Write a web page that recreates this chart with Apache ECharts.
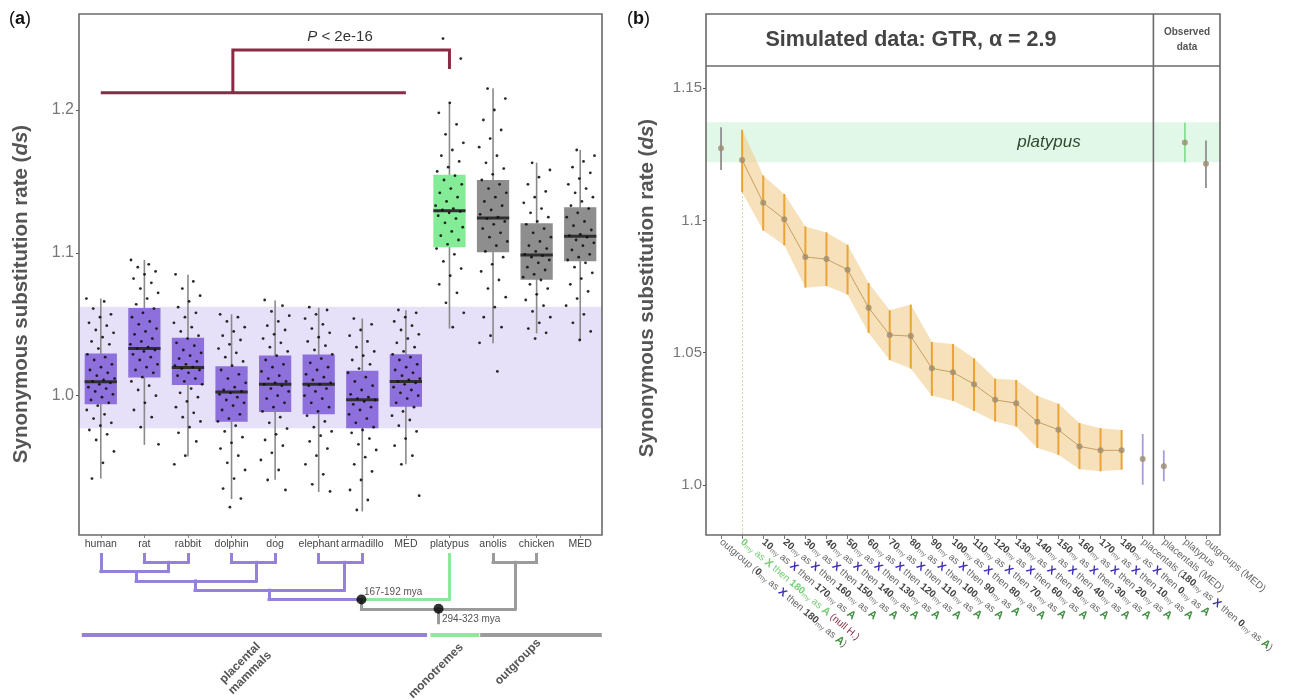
<!DOCTYPE html>
<html>
<head>
<meta charset="utf-8">
<script src="https://cdn.jsdelivr.net/npm/echarts@6/dist/echarts.min.js"></script>
<style>
  html, body { margin: 0; padding: 0; background: #fff; }
  #main { width: 1298px; height: 700px; }
</style>
</head>
<body>
<div id="main"></div>
<script>
// ---------- panel (a): dS per species ----------
const aCats = ['human', 'rat', 'rabbit', 'dolphin', 'dog', 'elephant', 'armadillo', 'MED', 'platypus', 'anolis', 'chicken', 'MED']
const aMin = [0.942, 0.9656, 0.9575, 0.9277, 0.9412, 0.9326, 0.919, 0.952, 1.047, 1.0367, 1.0437, 1.0385]
const aQ1 = [0.994, 1.0128, 1.0075, 0.9817, 0.9886, 0.987, 0.9773, 0.9923, 1.104, 1.1004, 1.0812, 1.0941]
const aMed = [1.0098, 1.033, 1.0198, 1.0026, 1.008, 1.008, 0.9972, 1.010, 1.1295, 1.1244, 1.0985, 1.1116]
const aQ3 = [1.0296, 1.0614, 1.0405, 1.0207, 1.0282, 1.0289, 1.0174, 1.029, 1.1546, 1.151, 1.1207, 1.1319]
const aMax = [1.068, 1.095, 1.0847, 1.057, 1.0667, 1.0616, 1.054, 1.0598, 1.205, 1.2152, 1.1631, 1.172]

const dotsHuman = [1.068, 1.066, 1.061, 1.057, 1.055, 1.051, 1.049, 1.046, 1.044, 1.041, 1.038, 1.036, 1.033, 1.029, 1.027, 1.025, 1.022, 1.02, 1.018, 1.016, 1.014, 1.012, 1.011, 1.01, 1.009, 1.008, 1.006, 1.005, 1.003, 1.001, 0.999, 0.997, 0.995, 0.993, 0.99, 0.987, 0.984, 0.981, 0.979, 0.976, 0.973, 0.969, 0.961, 0.953, 0.942]
const dotsRat = [1.095, 1.092, 1.09, 1.087, 1.085, 1.082, 1.079, 1.075, 1.072, 1.068, 1.064, 1.061, 1.058, 1.055, 1.052, 1.05, 1.047, 1.045, 1.043, 1.04, 1.038, 1.036, 1.034, 1.033, 1.032, 1.031, 1.029, 1.027, 1.025, 1.022, 1.02, 1.018, 1.016, 1.013, 1.01, 1.007, 1.004, 1.0, 0.995, 0.99, 0.985, 0.978, 0.966]
const dotsRabbit = [1.085, 1.08, 1.075, 1.07, 1.066, 1.062, 1.058, 1.055, 1.051, 1.048, 1.045, 1.042, 1.04, 1.037, 1.035, 1.032, 1.03, 1.028, 1.026, 1.024, 1.022, 1.021, 1.02, 1.019, 1.018, 1.016, 1.014, 1.012, 1.01, 1.008, 1.005, 1.002, 0.999, 0.996, 0.992, 0.988, 0.985, 0.982, 0.978, 0.974, 0.968, 0.958, 0.952]
const dotsDolphin = [1.057, 1.055, 1.052, 1.048, 1.045, 1.042, 1.039, 1.036, 1.033, 1.03, 1.027, 1.024, 1.021, 1.018, 1.015, 1.012, 1.009, 1.006, 1.004, 1.003, 1.002, 1.001, 0.999, 0.997, 0.995, 0.993, 0.99, 0.987, 0.984, 0.982, 0.979, 0.975, 0.971, 0.967, 0.963, 0.958, 0.953, 0.948, 0.942, 0.935, 0.928, 0.922]
const dotsDog = [1.067, 1.063, 1.059, 1.056, 1.052, 1.049, 1.046, 1.043, 1.04, 1.037, 1.034, 1.031, 1.028, 1.025, 1.022, 1.02, 1.017, 1.014, 1.012, 1.01, 1.009, 1.008, 1.007, 1.005, 1.003, 1.0, 0.998, 0.995, 0.992, 0.989, 0.985, 0.981, 0.977, 0.973, 0.969, 0.965, 0.96, 0.955, 0.948, 0.941, 0.934]
const dotsElephant = [1.062, 1.06, 1.057, 1.054, 1.05, 1.047, 1.044, 1.041, 1.038, 1.035, 1.032, 1.029, 1.026, 1.023, 1.02, 1.018, 1.015, 1.013, 1.011, 1.009, 1.008, 1.007, 1.005, 1.003, 1.0, 0.998, 0.995, 0.992, 0.989, 0.986, 0.982, 0.978, 0.975, 0.972, 0.968, 0.963, 0.958, 0.952, 0.945, 0.938, 0.933]
const dotsArmadillo = [1.054, 1.05, 1.046, 1.042, 1.038, 1.034, 1.031, 1.028, 1.025, 1.022, 1.019, 1.016, 1.013, 1.01, 1.007, 1.004, 1.001, 0.999, 0.998, 0.997, 0.996, 0.994, 0.992, 0.99, 0.987, 0.984, 0.981, 0.978, 0.976, 0.974, 0.97, 0.966, 0.962, 0.957, 0.952, 0.947, 0.941, 0.934, 0.927, 0.92]
const dotsMedPlac = [1.06, 1.058, 1.055, 1.052, 1.049, 1.046, 1.043, 1.04, 1.037, 1.034, 1.031, 1.029, 1.027, 1.025, 1.022, 1.02, 1.018, 1.016, 1.014, 1.012, 1.011, 1.01, 1.009, 1.008, 1.006, 1.004, 1.002, 1.0, 0.998, 0.995, 0.992, 0.989, 0.986, 0.983, 0.979, 0.975, 0.97, 0.965, 0.958, 0.952, 0.93]
const dotsPlatypus = [1.25, 1.236, 1.205, 1.198, 1.19, 1.183, 1.177, 1.172, 1.168, 1.164, 1.16, 1.157, 1.154, 1.151, 1.148, 1.145, 1.142, 1.139, 1.136, 1.133, 1.131, 1.13, 1.129, 1.128, 1.126, 1.124, 1.121, 1.118, 1.115, 1.112, 1.109, 1.106, 1.103, 1.099, 1.094, 1.089, 1.084, 1.078, 1.072, 1.065, 1.058, 1.048]
const dotsAnolis = [1.215, 1.208, 1.2, 1.193, 1.186, 1.18, 1.174, 1.168, 1.163, 1.159, 1.155, 1.151, 1.148, 1.145, 1.142, 1.139, 1.136, 1.133, 1.13, 1.127, 1.125, 1.124, 1.122, 1.12, 1.117, 1.114, 1.111, 1.108, 1.105, 1.101, 1.097, 1.092, 1.087, 1.081, 1.075, 1.069, 1.062, 1.055, 1.048, 1.042, 1.037, 1.017]
const dotsChicken = [1.163, 1.158, 1.153, 1.148, 1.143, 1.139, 1.135, 1.131, 1.128, 1.125, 1.122, 1.12, 1.117, 1.114, 1.111, 1.108, 1.105, 1.103, 1.101, 1.099, 1.098, 1.097, 1.095, 1.093, 1.09, 1.088, 1.085, 1.083, 1.081, 1.078, 1.075, 1.071, 1.067, 1.063, 1.059, 1.055, 1.051, 1.047, 1.044, 1.04]
const dotsMedOut = [1.172, 1.168, 1.164, 1.16, 1.156, 1.152, 1.148, 1.145, 1.142, 1.139, 1.136, 1.133, 1.131, 1.128, 1.125, 1.122, 1.119, 1.116, 1.113, 1.112, 1.111, 1.109, 1.107, 1.105, 1.102, 1.099, 1.097, 1.095, 1.093, 1.09, 1.086, 1.082, 1.078, 1.073, 1.068, 1.063, 1.057, 1.051, 1.045, 1.039]
const aDots = [dotsHuman, dotsRat, dotsRabbit, dotsDolphin, dotsDog, dotsElephant, dotsArmadillo, dotsMedPlac, dotsPlatypus, dotsAnolis, dotsChicken, dotsMedOut]

const aPlacentalBand = [0.9772, 1.0623]
// P-value bracket: [category, dS] points
const bracketLow = [[0, 1.2121], [7, 1.2121]]
const bracketHigh = [[3.03, 1.2121], [3.03, 1.242], [8, 1.242], [8, 1.2287]]

// dendrogram below (a): [x0, level0, x1, level1], x in category units
const treePurple = [
  [1, 0, 1, 1], [2, 0, 2, 1], [1, 1, 2, 1], [1.54, 1, 1.54, 2],
  [0, 0, 0, 2], [0, 2, 1.54, 2], [0.81, 2, 0.81, 3],
  [3, 0, 3, 1], [4, 0, 4, 1], [3, 1, 4, 1], [3.56, 1, 3.56, 3],
  [0.81, 3, 3.56, 3], [2.16, 3, 2.16, 4],
  [5, 0, 5, 1], [6, 0, 6, 1], [5, 1, 6, 1], [5.58, 1, 5.58, 4],
  [2.16, 4, 5.58, 4], [3.86, 4, 3.86, 5], [3.86, 5, 5.98, 5]
]
const treeGreen = [[5.98, 5, 8, 5], [8, 0, 8, 5]]
const treeGray = [[5.98, 5, 5.98, 6], [5.98, 6, 9.5, 6], [9, 0, 9, 1], [10, 0, 10, 1], [9, 1, 10, 1], [9.5, 1, 9.5, 6], [7.75, 6, 7.75, 7.5]]
const treeNodes = [[5.98, 5], [7.75, 6]]
const groupBars = [[-0.39, 7.44], [7.61, 8.64], [8.75, 11.45]]

// ---------- panel (b): simulated vs observed ----------
const bXmy = [0, 10, 20, 30, 40, 50, 60, 70, 80, 90, 100, 110, 120, 130, 140, 150, 160, 170, 180]
const bAmy = [180, 170, 160, 150, 140, 130, 120, 110, 100, 90, 80, 70, 60, 50, 40, 30, 20, 10, 0]
const bMean = [1.1273, 1.1229, 1.1067, 1.1005, 1.0862, 1.0854, 1.0814, 1.067, 1.0567, 1.0563, 1.0441, 1.0426, 1.0381, 1.0322, 1.0309, 1.0239, 1.0209, 1.0146, 1.0131, 1.0131, 1.0098, 1.0071, 1.1295, 1.1214]
const bLow = [1.1191, 1.1107, 1.0962, 1.0906, 1.0746, 1.0752, 1.072, 1.0575, 1.0472, 1.044, 1.0337, 1.0318, 1.028, 1.024, 1.0221, 1.014, 1.0114, 1.006, 1.0052, 1.0058, 1.0001, 1.0014, 1.122, 1.1123]
const bHigh = [1.1352, 1.1343, 1.117, 1.110, 1.0977, 1.0955, 1.0908, 1.0764, 1.0661, 1.0682, 1.0541, 1.0533, 1.0479, 1.0402, 1.0397, 1.0337, 1.0307, 1.0234, 1.0215, 1.0208, 1.0193, 1.0131, 1.137, 1.1302]
const bPlatypusBand = [1.122, 1.1371]

const FONT = '"Liberation Sans", Arial, sans-serif'
const PURPLE = '#8d70db', GREEN = '#84ec96', GRAY = '#8e8e8e'

function boxColor(i) {
  return i < 8 ? PURPLE : (i === 8 ? GREEN : GRAY)
}
function barColor(i) {
  if (i === 0 || i === 23) return '#8f8f8f'
  if (i === 20 || i === 21) return '#a99ddb'
  if (i === 22) return '#86df94'
  return '#eaa434'
}

const jitter = k => (((k * 0.6180339887) % 1) - 0.5) * 0.66

const dotData = []
aDots.forEach((list, g) => list.forEach((v, k) => dotData.push([g + jitter(k + g * 13), v])))

const boxData = aCats.map((c, i) => [i, aMin[i], aQ1[i], aMed[i], aQ3[i], aMax[i]])

// x-axis labels of (b)
function simLabel(x, a, pre, post, g) {
  const p = g ? 'g' : ''
  return (pre ? '{t|' + pre + '}' : '') +
    '{' + p + 'n|' + x + '}{' + p + 's|my}{' + p + 't| as }{' + p + 'x|X}{' + p + 't| then }' +
    '{' + p + 'n|' + a + '}{' + p + 's|my}{' + p + 't| as }{' + p + 'a|A}' + (post || '')
}
const bCats = ['outgroup'].concat(bXmy.map(String), ['placentals', 'placentals (MED)', 'platypus', 'outgroups (MED)'])
const bLabels = bCats.map((c, i) => {
  if (i === 0) return simLabel(0, 180, 'outgroup (', '{t|)}')
  if (i === 1) return simLabel(0, 180, '', '{r| (null H.)}', true)
  if (i <= 19) return simLabel(bXmy[i - 1], bAmy[i - 1])
  if (i === 20) return simLabel(180, 0, 'placentals (', '{t|)}')
  return '{t|' + c + '}'
})
const inSim = i => i >= 1 && i <= 19
const simLowData = bLow.map((v, i) => inSim(i) ? v : '-')
const simSpanData = bHigh.map((v, i) => inSim(i) ? +(v - bLow[i]).toFixed(4) : '-')
const simMeanData = bMean.map((v, i) => inSim(i) ? v : '-')

function renderBox(params, api) {
  const i = api.value(0)
  const w = api.size([1, 0])[0] * 0.74
  const cx = api.coord([i, api.value(3)])[0]
  const yMin = api.coord([i, api.value(1)])[1]
  const yQ1 = api.coord([i, api.value(2)])[1]
  const yMed = api.coord([i, api.value(3)])[1]
  const yQ3 = api.coord([i, api.value(4)])[1]
  const yMax = api.coord([i, api.value(5)])[1]
  return {
    type: 'group',
    children: [
      { type: 'line', shape: { x1: cx, y1: yMax, x2: cx, y2: yMin }, style: { stroke: '#8a8a8a', lineWidth: 1.6 } },
      { type: 'rect', shape: { x: cx - w / 2, y: yQ3, width: w, height: yQ1 - yQ3 }, style: { fill: boxColor(i) } },
      { type: 'line', shape: { x1: cx - w / 2, y1: yMed, x2: cx + w / 2, y2: yMed }, style: { stroke: '#2e2e2e', lineWidth: 3 } }
    ]
  }
}

function renderBar(params, api) {
  const i = api.value(0)
  const lo = api.coord([i, api.value(1)])
  const hi = api.coord([i, api.value(2)])
  return {
    type: 'line',
    shape: { x1: lo[0], y1: lo[1], x2: hi[0], y2: hi[1] },
    style: { stroke: barColor(i), lineWidth: inSim(i) ? 2 : 1.8 }
  }
}

function edges(list, color, width) {
  return list.map(e => ({ coords: [[e[0], e[1]], [e[2], e[3]]], lineStyle: { color: color, width: width } }))
}

const nameRich = {
  b: { fontSize: 20.5, fontWeight: 'bold', fill: '#555', fontFamily: FONT },
  i: { fontSize: 20.5, fontWeight: 'bold', fontStyle: 'italic', fill: '#555', fontFamily: FONT }
}
const yName = '{b|Synonymous substitution rate (}{i|ds}{b|)}'
const g = { color: '#74cf74', fontSize: 10, fontFamily: FONT, verticalAlign: 'middle' }

let chartDom = document.getElementById('main')
let myChart = echarts.init(chartDom)
let option

option = {
  animation: false,
  backgroundColor: '#fff',
  textStyle: { fontFamily: FONT },
  grid: [
    { left: 79, top: 14, width: 523, height: 521 },
    { left: 79, top: 553, width: 523, height: 93 },
    { left: 710.5, top: 66, width: 506, height: 469 },
    { left: 706, top: 66, width: 514, height: 469 }
  ],
  xAxis: [
    {
      type: 'category', gridIndex: 0, data: aCats.map((c, i) => String(i)),
      axisLine: { show: false },
      axisTick: { show: true, length: 3, alignWithLabel: true, lineStyle: { color: '#888' } },
      axisLabel: { interval: 0, margin: 4, fontSize: 10.5, color: '#444', formatter: (v) => aCats[+v] }
    },
    { type: 'value', gridIndex: 0, min: -0.5, max: 11.5, show: false },
    { type: 'value', gridIndex: 1, min: -0.5, max: 11.5, show: false },
    {
      type: 'category', gridIndex: 2, data: bCats,
      axisLine: { show: false },
      axisTick: { show: true, length: 4, alignWithLabel: true, lineStyle: { color: '#777' } },
      axisLabel: {
        interval: 0, rotate: -40, margin: 6, hideOverlap: false,
        formatter: (v, idx) => bLabels[idx],
        rich: {
          t: { color: '#666', fontSize: 10, fontFamily: FONT },
          n: { color: '#444', fontSize: 10, fontWeight: 'bold', fontFamily: FONT },
          s: { color: '#777', fontSize: 7, fontFamily: FONT, verticalAlign: 'bottom' },
          x: { color: '#3d2fb5', fontSize: 11, fontWeight: 'bold', fontFamily: FONT },
          a: { color: '#3f8f3f', fontSize: 11, fontWeight: 'bold', fontFamily: FONT },
          gt: g,
          gn: Object.assign({}, g, { fontWeight: 'bold' }),
          gs: Object.assign({}, g, { fontSize: 7, verticalAlign: 'bottom' }),
          gx: Object.assign({}, g, { fontSize: 11, fontWeight: 'bold' }),
          ga: Object.assign({}, g, { fontSize: 11, fontWeight: 'bold' }),
          r: { color: '#8b2a45', fontSize: 10, fontFamily: FONT }
        }
      }
    },
    { type: 'value', gridIndex: 3, min: 0, max: 1, show: false }
  ],
  yAxis: [
    {
      type: 'value', gridIndex: 0, min: 0.9025, max: 1.2672,
      axisLine: { show: false, onZero: false }, splitLine: { show: false },
      axisTick: { show: true, length: 3, customValues: [1.0, 1.1, 1.2], lineStyle: { color: '#555' } },
      axisLabel: { customValues: [1.0, 1.1, 1.2], margin: 5, fontSize: 16, color: '#777', formatter: v => v.toFixed(1) }
    },
    { type: 'value', gridIndex: 1, min: 0, max: 10, inverse: true, show: false },
    {
      type: 'value', gridIndex: 2, min: 0.9811, max: 1.1584, offset: 4.5,
      axisLine: { show: false, onZero: false }, splitLine: { show: false },
      axisTick: { show: true, length: 3, customValues: [1.0, 1.05, 1.1, 1.15], lineStyle: { color: '#555' } },
      axisLabel: {
        customValues: [1.0, 1.05, 1.1, 1.15], margin: 4, fontSize: 15, color: '#777',
        formatter: v => (Math.abs(v - 1) < 1e-9 ? '1.0' : String(+v.toFixed(2)))
      }
    },
    { type: 'value', gridIndex: 3, min: 0.9811, max: 1.1584, show: false }
  ],
  series: [
    // (a) placental band
    {
      type: 'line', xAxisIndex: 1, yAxisIndex: 0, data: [], z: 0, silent: true,
      markArea: { silent: true, itemStyle: { color: '#e6e1f8' }, data: [[{ yAxis: aPlacentalBand[0] }, { yAxis: aPlacentalBand[1] }]] }
    },
    {
      type: 'custom', xAxisIndex: 0, yAxisIndex: 0, data: boxData, renderItem: renderBox, z: 2,
      encode: { x: 0, y: [1, 2, 3, 4, 5] }
    },
    {
      type: 'scatter', xAxisIndex: 1, yAxisIndex: 0, data: dotData, z: 3,
      symbolSize: 2.8, itemStyle: { color: '#111', opacity: 0.9 }
    },
    {
      type: 'lines', coordinateSystem: 'cartesian2d', xAxisIndex: 1, yAxisIndex: 0, polyline: true, z: 4,
      lineStyle: { color: '#8b2a45', width: 3, opacity: 1 },
      data: [{ coords: bracketLow }, { coords: bracketHigh }]
    },
    // dendrogram
    {
      type: 'lines', coordinateSystem: 'cartesian2d', xAxisIndex: 2, yAxisIndex: 1, z: 3,
      lineStyle: { opacity: 1, cap: 'square' },
      data: edges(treePurple, '#9581da', 3)
        .concat(edges(treeGreen, '#8ce99a', 3))
        .concat(edges(treeGray, '#9b9b9b', 3))
        .concat(groupBars.map((b, i) => ({
          coords: [[b[0], 8.8], [b[1], 8.8]],
          lineStyle: { color: ['#9581da', '#8ce99a', '#9b9b9b'][i], width: 4 }
        })))
    },
    {
      type: 'scatter', xAxisIndex: 2, yAxisIndex: 1, data: treeNodes, z: 5,
      symbolSize: 10, itemStyle: { color: '#000' }
    },
    // (b) platypus band
    {
      type: 'line', xAxisIndex: 4, yAxisIndex: 3, data: [], z: 0, silent: true,
      markArea: { silent: true, itemStyle: { color: '#e1f8e9' }, data: [[{ yAxis: bPlatypusBand[0] }, { yAxis: bPlatypusBand[1] }]] }
    },
    {
      type: 'line', xAxisIndex: 3, yAxisIndex: 2, data: simLowData, stack: 'sim', z: 1,
      showSymbol: false, lineStyle: { opacity: 0 }
    },
    {
      type: 'line', xAxisIndex: 3, yAxisIndex: 2, data: simSpanData, stack: 'sim', z: 1,
      showSymbol: false, lineStyle: { opacity: 0 }, areaStyle: { color: 'rgba(241,205,142,0.6)', opacity: 1 }
    },
    {
      type: 'lines', coordinateSystem: 'cartesian2d', xAxisIndex: 3, yAxisIndex: 2, z: 1,
      lineStyle: { color: '#d6d29a', width: 1, type: [2, 2], opacity: 1 },
      data: [{ coords: [[1, bLow[1]], [1, 0.9811]] }]
    },
    {
      type: 'line', xAxisIndex: 3, yAxisIndex: 2, data: simMeanData, z: 2,
      showSymbol: false, lineStyle: { color: '#c89f62', width: 1 }
    },
    {
      type: 'custom', xAxisIndex: 3, yAxisIndex: 2, z: 3,
      data: bCats.map((c, i) => [i, bLow[i], bHigh[i]]), renderItem: renderBar,
      encode: { x: 0, y: [1, 2] }
    },
    {
      type: 'scatter', xAxisIndex: 3, yAxisIndex: 2, z: 4,
      data: bMean.map((v, i) => [i, v]), symbolSize: 6, itemStyle: { color: '#9c8c70' }
    }
  ],
  graphic: [
    { type: 'rect', z: 100, shape: { x: 79, y: 14, width: 523, height: 521 }, style: { fill: 'none', stroke: '#6a6a6a', lineWidth: 1.6 } },
    { type: 'rect', z: 100, shape: { x: 706, y: 14, width: 514, height: 521 }, style: { fill: 'none', stroke: '#6a6a6a', lineWidth: 1.6 } },
    { type: 'line', z: 100, shape: { x1: 706, y1: 66, x2: 1220, y2: 66 }, style: { stroke: '#6a6a6a', lineWidth: 1.6 } },
    { type: 'line', z: 100, shape: { x1: 1153.4, y1: 14, x2: 1153.4, y2: 535 }, style: { stroke: '#6a6a6a', lineWidth: 1.6 } },
    {
      type: 'text', x: 21, y: 294, rotation: Math.PI / 2, z: 100,
      style: { text: yName, align: 'center', verticalAlign: 'middle', rich: nameRich }
    },
    {
      type: 'text', x: 647, y: 288, rotation: Math.PI / 2, z: 100,
      style: { text: yName, align: 'center', verticalAlign: 'middle', rich: nameRich }
    },
    {
      type: 'text', x: 9, y: 10, z: 100,
      style: { text: '{p|(}{b|a}{p|)}', rich: { p: { fontSize: 18, fill: '#111', fontFamily: FONT }, b: { fontSize: 18, fontWeight: 'bold', fill: '#111', fontFamily: FONT } } }
    },
    {
      type: 'text', x: 627, y: 10, z: 100,
      style: { text: '{p|(}{b|b}{p|)}', rich: { p: { fontSize: 18, fill: '#111', fontFamily: FONT }, b: { fontSize: 18, fontWeight: 'bold', fill: '#111', fontFamily: FONT } } }
    },
    {
      type: 'text', x: 340, y: 37, z: 100,
      style: {
        text: '{i|P}{t| < 2e-16}', align: 'center', verticalAlign: 'middle',
        rich: { i: { fontSize: 15, fontStyle: 'italic', fill: '#333', fontFamily: FONT }, t: { fontSize: 15, fill: '#333', fontFamily: FONT } }
      }
    },
    {
      type: 'text', x: 911, y: 40, z: 100,
      style: { text: 'Simulated data: GTR, α = 2.9', align: 'center', verticalAlign: 'middle', font: 'bold 21.5px ' + FONT, fill: '#444' }
    },
    {
      type: 'text', x: 1187, y: 40, z: 100,
      style: { text: 'Observed\ndata', align: 'center', verticalAlign: 'middle', font: 'bold 10px ' + FONT, fill: '#555', lineHeight: 15 }
    },
    {
      type: 'text', x: 1049, y: 142, z: 100,
      style: { text: 'platypus', align: 'center', verticalAlign: 'middle', font: 'italic 17px ' + FONT, fill: '#2f4a30' }
    },
    {
      type: 'text', x: 364, y: 592, z: 100,
      style: { text: '167-192 mya', align: 'left', verticalAlign: 'middle', font: '10px ' + FONT, fill: '#555' }
    },
    {
      type: 'text', x: 442, y: 619, z: 100,
      style: { text: '294-323 mya', align: 'left', verticalAlign: 'middle', font: '10px ' + FONT, fill: '#555' }
    },
    {
      type: 'text', x: 245, y: 668, rotation: Math.PI / 4, z: 100,
      style: { text: 'placental\nmammals', align: 'center', verticalAlign: 'middle', font: 'bold 12px ' + FONT, fill: '#555', lineHeight: 14 }
    },
    {
      type: 'text', x: 436, y: 671, rotation: Math.PI / 4, z: 100,
      style: { text: 'monotremes', align: 'center', verticalAlign: 'middle', font: 'bold 12px ' + FONT, fill: '#555' }
    },
    {
      type: 'text', x: 518, y: 662, rotation: Math.PI / 4, z: 100,
      style: { text: 'outgroups', align: 'center', verticalAlign: 'middle', font: 'bold 12px ' + FONT, fill: '#555' }
    }
  ]
}

option && myChart.setOption(option)
</script>
</body>
</html>
